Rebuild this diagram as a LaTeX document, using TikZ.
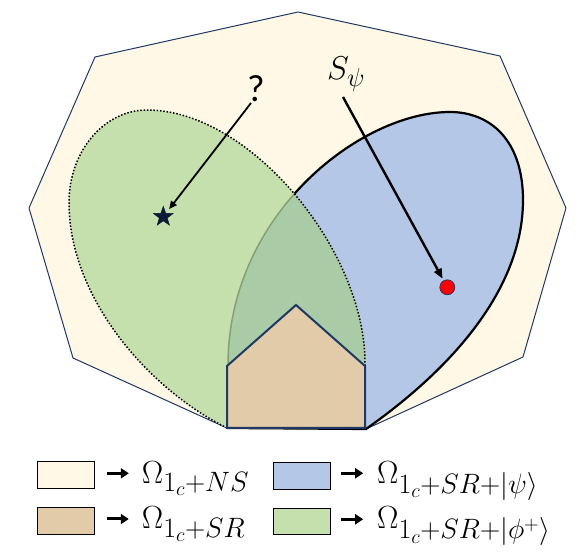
\RequirePackage{fix-cm}
\documentclass[tikz,border=0pt]{standalone}
\usepackage{fontspec}
\newfontfamily\calib{Carlito}
\DeclareMathSizes{32}{32}{28}{20}
\DeclareMathSizes{33}{33}{26}{19}
\usetikzlibrary{shapes.geometric,arrows.meta}
\definecolor{cream}{HTML}{FFF8E6}
\definecolor{bluef}{HTML}{B4C7E7}
\definecolor{greenf}{HTML}{C5E0AC}
\definecolor{overlapf}{HTML}{A9CBA5}
\definecolor{tanf}{HTML}{E1CBA9}
\definecolor{navy}{HTML}{203864}
\definecolor{faint}{HTML}{86A076}
\definecolor{starc}{HTML}{0E1A33}
\tikzset{
  region/.style={line width=1pt, draw=navy, line join=round},
  ptr/.style={line width=1.8pt, -{Triangle[length=8pt,width=7pt]}},
  legarr/.style={line width=3pt, -{Triangle[length=8pt,width=10pt]}},
  lbox/.style={draw=black, line width=1pt, minimum width=57pt, minimum height=26.6pt, inner sep=0},
  legtext/.style={anchor=base west, inner sep=0, font=\fontsize{32}{36}\selectfont},
  starnode/.style={star, star points=5, star point ratio=2.5, minimum size=21pt, inner sep=0, fill=starc, draw=starc},
  dotnode/.style={circle, minimum size=15pt, inner sep=0, fill=red, draw=navy, line width=0.7pt}
}
\begin{document}
\begin{tikzpicture}[x=1pt,y=-1pt]
\useasboundingbox (0,0) rectangle (582,553);
\def\bluepath{(366,429) .. controls (450,370) and (523,290) .. (523,200) .. controls (523,140) and (490,112) .. (450,112) .. controls (360,112) and (228,215) .. (228,365) -- (228,428) -- cycle}
\def\greenpath{(227,428) .. controls (145,387) and (69,295) .. (69,203) .. controls (69,150) and (105,110) .. (147,110) .. controls (250,110) and (365,250) .. (365,363) -- (365,428) -- cycle}
% outer polygon
\path[region, fill=cream] (298,12) -- (500,56) -- (566,208) -- (523,357) -- (366,429) -- (227,428) -- (73,358) -- (29,208) -- (95,57) -- cycle;
% blue region
\path[fill=bluef, draw=black, line width=2.2pt] \bluepath;
% green region
\path[fill=greenf] \greenpath;
\begin{scope}
  \clip \greenpath;
  \path[fill=overlapf] \bluepath;
  \path[draw=faint, line width=1.5pt] \bluepath;
\end{scope}
\path[draw=black, line width=1.5pt, dash pattern=on 1.5pt off 1.8pt] \greenpath;
% house
\path[fill=tanf, draw=navy, line width=2pt, line join=miter] (227,428) -- (227,366) -- (296,305) -- (365,366) -- (365,428) -- cycle;
% markers and labels
\node[starnode] (star) at (163.3,216.7) {};
\node[dotnode] (dot) at (447.3,287.3) {};
\node[anchor=base, inner sep=0, font=\calib\fontsize{38}{40}\selectfont] (q) at (256,101.7) {?};
\node[anchor=base west, inner sep=0, font=\fontsize{33}{36}\selectfont] (S) at (327,80) {$S_\psi$};
\coordinate (qtail) at (251,103);
\coordinate (stail) at (343,97);
\draw[ptr, shorten >=5pt] (qtail) -- (star);
\draw[ptr, line width=2.4pt, -{Triangle[length=10pt,width=8pt]}, shorten >=2pt] (stail) -- (dot);
% legend
\node[lbox, fill=cream] (b1) at (65.8,475) {};
\node[lbox, fill=tanf] (b2) at (65.8,520.8) {};
\node[lbox, fill=bluef] (b3) at (301.8,476) {};
\node[lbox, fill=greenf] (b4) at (301.8,521.7) {};
\node[legtext] (t1) at (141.7,483.3) {$\Omega_{1_c+NS}$};
\node[legtext] (t2) at (141.7,529) {$\Omega_{1_c+SR}$};
\node[legtext] (t3) at (377,483.3) {$\Omega_{1_c+SR+|\psi\rangle}$};
\node[legtext] (t4) at (377,529) {$\Omega_{1_c+SR+|\phi^+\rangle}$};
\draw[legarr] ([xshift=12pt,yshift=1.7pt]b1.east) -- ([xshift=34pt,yshift=1.7pt]b1.east);
\draw[legarr] ([xshift=12pt,yshift=1.8pt]b2.east) -- ([xshift=34pt,yshift=1.8pt]b2.east);
\draw[legarr] ([xshift=10pt,yshift=2.7pt]b3.east) -- ([xshift=32.4pt,yshift=2.7pt]b3.east);
\draw[legarr] ([xshift=10pt,yshift=2.4pt]b4.east) -- ([xshift=32.4pt,yshift=2.4pt]b4.east);
\end{tikzpicture}
\end{document}
